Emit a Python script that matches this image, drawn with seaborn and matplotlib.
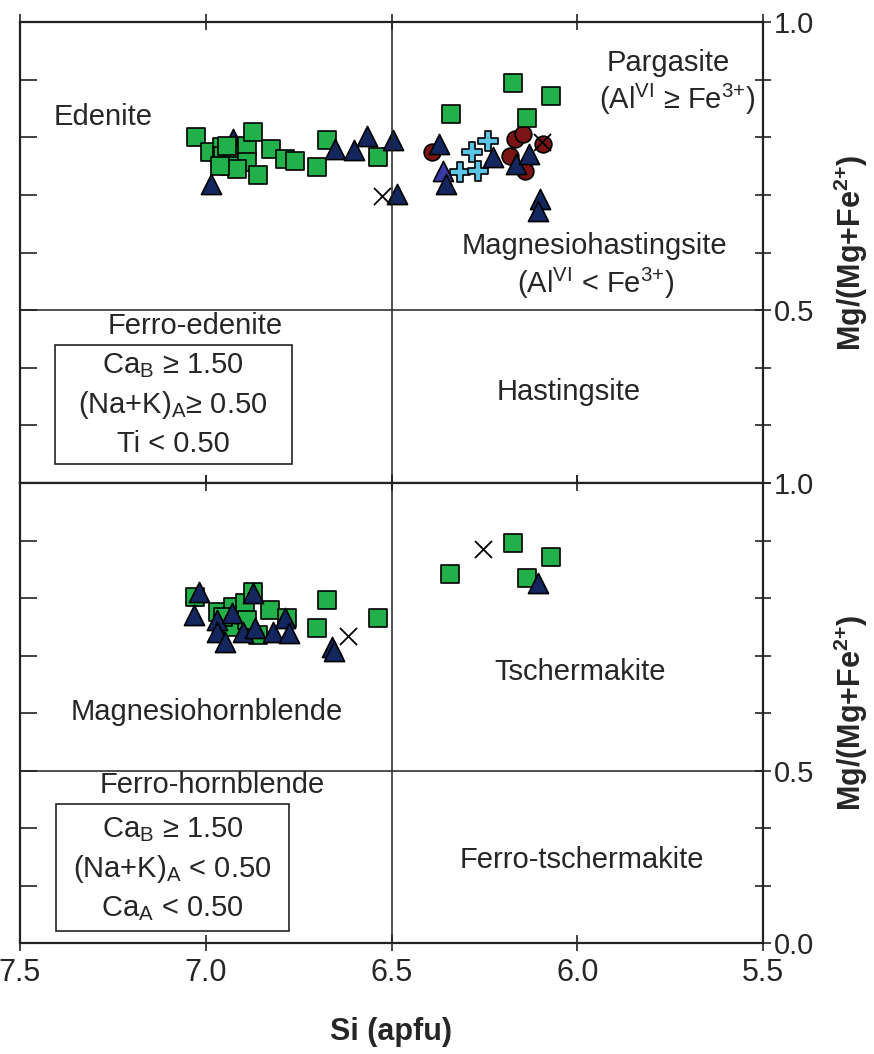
import matplotlib
matplotlib.use('Agg')
import matplotlib.pyplot as plt
from matplotlib.patches import Rectangle
import numpy as np
import pandas as pd
import seaborn as sns

# data: Si (apfu) and Mg/(Mg+Fe2+)
# upper panel (Edenite - Pargasite - Hastingsite field)
top_sq_si = [7.026, 6.989, 6.956, 6.954, 6.927, 6.935, 6.889, 6.873, 6.889, 6.859,
             6.824, 6.787, 6.760, 6.701, 6.674, 6.536, 6.943, 6.916, 6.962,
             6.173, 6.071, 6.340, 6.135]
top_sq_mg = [0.800, 0.774, 0.783, 0.767, 0.771, 0.750, 0.784, 0.809, 0.757, 0.734,
             0.779, 0.762, 0.759, 0.748, 0.795, 0.766, 0.784, 0.745, 0.750,
             0.895, 0.871, 0.841, 0.834]
top_tri_back_si = [6.927]   # triangle hidden behind the squares
top_tri_back_mg = [0.797]
top_tri_si = [6.986, 6.652, 6.601, 6.566, 6.496, 6.485, 6.372, 6.227, 6.165,
              6.130, 6.353, 6.100, 6.106]
top_tri_mg = [0.719, 0.779, 0.778, 0.802, 0.795, 0.702, 0.788, 0.766, 0.753,
              0.771, 0.719, 0.693, 0.672]
top_tri2_si = [6.361]
top_tri2_mg = [0.741]
top_circ_si = [6.391, 6.168, 6.146, 6.181, 6.141, 6.092]
top_circ_mg = [0.774, 0.797, 0.805, 0.767, 0.741, 0.788]
top_plus_si = [6.316, 6.283, 6.267, 6.240]
top_plus_mg = [0.740, 0.774, 0.741, 0.793]
top_x_si = [6.526, 6.095]
top_x_mg = [0.698, 0.791]

# lower panel (Magnesiohornblende - Tschermakite field)
bot_sq_si = [7.029, 6.967, 6.927, 6.894, 6.873, 6.827, 6.781, 6.674, 6.701, 6.536,
             6.859, 6.927, 6.889, 6.954, 6.343, 6.173, 6.071, 6.135]
bot_sq_mg = [0.802, 0.776, 0.785, 0.792, 0.811, 0.780, 0.766, 0.797, 0.748, 0.766,
             0.736, 0.750, 0.762, 0.767, 0.842, 0.896, 0.872, 0.835]
bot_tri_si = [7.018, 7.032, 6.970, 6.929, 6.970, 6.948, 6.900, 6.867, 6.873, 6.819,
              6.787, 6.776, 6.660, 6.655, 6.106]
bot_tri_mg = [0.811, 0.771, 0.762, 0.774, 0.741, 0.724, 0.741, 0.748, 0.809, 0.741,
              0.766, 0.740, 0.715, 0.707, 0.826]
bot_x_si = [6.617, 6.254]
bot_x_mg = [0.734, 0.885]

y_ticks = [0, 1/6, 1/3, 0.5, 0.6, 0.7, 0.8, 0.9, 1.0]


def make_df(groups):
    rows = []
    for name, si, mg in groups:
        for a, b in zip(si, mg):
            rows.append((name, a, b))
    return pd.DataFrame(rows, columns=['group', 'Si', 'Mg'])


df_top = make_df([('circle', top_circ_si, top_circ_mg),
                  ('tri_back', top_tri_back_si, top_tri_back_mg),
                  ('square', top_sq_si, top_sq_mg),
                  ('plus', top_plus_si, top_plus_mg),
                  ('tri2', top_tri2_si, top_tri2_mg),
                  ('tri', top_tri_si, top_tri_mg),
                  ('x', top_x_si, top_x_mg)])
df_bot = make_df([('square', bot_sq_si, bot_sq_mg),
                  ('tri', bot_tri_si, bot_tri_mg),
                  ('x', bot_x_si, bot_x_mg)])

# marker styles
styles = {
    'square': dict(marker='s', s=155, color='#22b04a'),
    'tri': dict(marker='^', s=210, color='#13275e'),
    'tri_back': dict(marker='^', s=210, color='#13275e'),
    'tri2': dict(marker='^', s=210, color='#3a3aa6'),
    'circle': dict(marker='o', s=145, color='#7b1414'),
    'plus': dict(marker='P', s=200, color='#5ec4e6'),
}

sns.set_style('white')
plt.rcParams['font.family'] = ['Liberation Sans', 'DejaVu Sans']
plt.rcParams['mathtext.fontset'] = 'custom'
plt.rcParams['mathtext.rm'] = 'Liberation Sans'
plt.rcParams['mathtext.it'] = 'Liberation Sans:italic'
plt.rcParams['mathtext.bf'] = 'Liberation Sans:bold'


# the part below 0.5 is squeezed in the diagram
def fwd(y):
    y = np.asarray(y, dtype=float)
    return np.where(y >= 0.5, y, 0.2 + 0.6 * y)


def inv(t):
    t = np.asarray(t, dtype=float)
    return np.where(t >= 0.5, t, (t - 0.2) / 0.6)


W, H = 874, 1054
fig = plt.figure(figsize=(W / 100, H / 100), dpi=100)
ax_top = fig.add_axes([20 / W, 1 - 483 / H, 743 / W, 461 / H])
ax_bot = fig.add_axes([20 / W, 1 - 943 / H, 743 / W, 460 / H])


def setup(ax, df, right_labels, show_x):
    for g, sub in df.groupby('group', sort=False):
        if g == 'x':
            sns.scatterplot(data=sub, x='Si', y='Mg', ax=ax, marker='x', s=150,
                            color='black', linewidth=1.3, legend=False)
        else:
            st = styles[g]
            sns.scatterplot(data=sub, x='Si', y='Mg', ax=ax, marker=st['marker'],
                            s=st['s'], color=st['color'], edgecolor='black',
                            linewidth=1.2, legend=False)
    ax.set_yscale('function', functions=(fwd, inv))
    ax.set_ylim(0, 1)
    ax.set_xlim(7.5, 5.5)
    ax.axvline(6.5, color='#222222', lw=1.1)
    ax.axhline(0.5, color='#222222', lw=1.1)
    for sp in ax.spines.values():
        sp.set_linewidth(1.6)
        sp.set_color('#222222')
    ax.set_xticks([7.5, 7.0, 6.5, 6.0, 5.5])
    ax.xaxis.set_major_formatter(matplotlib.ticker.FormatStrFormatter('%.1f'))
    ax.tick_params(axis='x', direction='inout', length=12, width=1.2, top=True,
                   bottom=True, labelbottom=show_x, labelsize=22, pad=5,
                   color='#222222')
    ax.set_yticks(y_ticks)
    ax.yaxis.set_minor_locator(matplotlib.ticker.NullLocator())
    ax.tick_params(axis='y', direction='in', length=12, width=1.2, left=True,
                   right=False, labelleft=False, color='#222222')
    ax.set_xlabel('')
    ax.set_ylabel('')

    tw = ax.twinx()
    tw.set_yscale('function', functions=(fwd, inv))
    tw.set_ylim(0, 1)
    tw.set_yticks(y_ticks)
    tw.yaxis.set_minor_locator(matplotlib.ticker.NullLocator())
    tw.set_yticklabels([right_labels.get(round(v, 3), '') for v in y_ticks])
    tw.tick_params(axis='y', direction='inout', length=12, width=1.2, labelsize=21,
                   pad=2, color='#222222')
    for sp in tw.spines.values():
        sp.set_visible(False)
    tw.set_ylabel('Mg/(Mg+Fe$^{\\mathbf{2{+}}}$)', fontsize=22, fontweight='bold')
    tw.yaxis.set_label_coords(1.093, 0.5)
    return tw


setup(ax_top, df_top, {1.0: '1.0', 0.5: '0.5'}, False)
setup(ax_bot, df_bot, {1.0: '1.0', 0.5: '0.5', 0.0: '0.0'}, True)

ax_bot.set_xlabel('Si (apfu)', fontsize=22, fontweight='bold')
ax_bot.xaxis.set_label_coords(0.5, -0.16)
ax_bot.xaxis.label.set_va('top')

fs = 21
# upper panel field names
ax_top.text(7.277, 0.836, 'Edenite', fontsize=fs, ha='center', va='center')
ax_top.text(5.756, 0.929, 'Pargasite', fontsize=fs, ha='center', va='center')
ax_top.text(5.732, 0.866, '(Al$^{\\mathregular{VI}}$ ≥ Fe$^{\\mathregular{3{+}}}$)',
            fontsize=fs, ha='center', va='center')
ax_top.text(5.955, 0.612, 'Magnesiohastingsite', fontsize=fs, ha='center', va='center')
ax_top.text(5.950, 0.547, '(Al$^{\\mathregular{VI}}$ < Fe$^{\\mathregular{3{+}}}$)',
            fontsize=fs, ha='center', va='center')
ax_top.text(7.029, 0.453, 'Ferro-edenite', fontsize=fs, ha='center', va='center')
ax_top.text(6.022, 0.262, 'Hastingsite', fontsize=fs, ha='center', va='center')
ax_top.add_patch(Rectangle((7.406, 0.055), 6.768 - 7.406, 0.400 - 0.055,
                           fill=False, ec='#222222', lw=1.2))
ax_top.text(7.088, 0.227,
            'Ca$_\\mathregular{B}$ ≥ 1.50\n(Na+K)$_\\mathregular{A}$≥ 0.50\nTi < 0.50',
            fontsize=fs, ha='center', va='center', multialignment='center',
            linespacing=1.4)

# lower panel field names
ax_bot.text(6.997, 0.601, 'Magnesiohornblende', fontsize=fs, ha='center', va='center')
ax_bot.text(5.993, 0.672, 'Tschermakite', fontsize=fs, ha='center', va='center')
ax_bot.text(6.983, 0.457, 'Ferro-hornblende', fontsize=fs, ha='center', va='center')
ax_bot.text(5.987, 0.242, 'Ferro-tschermakite', fontsize=fs, ha='center', va='center')
ax_bot.add_patch(Rectangle((7.403, 0.034), 6.776 - 7.403, 0.402 - 0.034,
                           fill=False, ec='#222222', lw=1.2))
ax_bot.text(7.09, 0.215,
            'Ca$_\\mathregular{B}$ ≥ 1.50\n(Na+K)$_\\mathregular{A}$ < 0.50\nCa$_\\mathregular{A}$ < 0.50',
            fontsize=fs, ha='center', va='center', multialignment='center',
            linespacing=1.4)

fig.savefig('out.png', dpi=100)
